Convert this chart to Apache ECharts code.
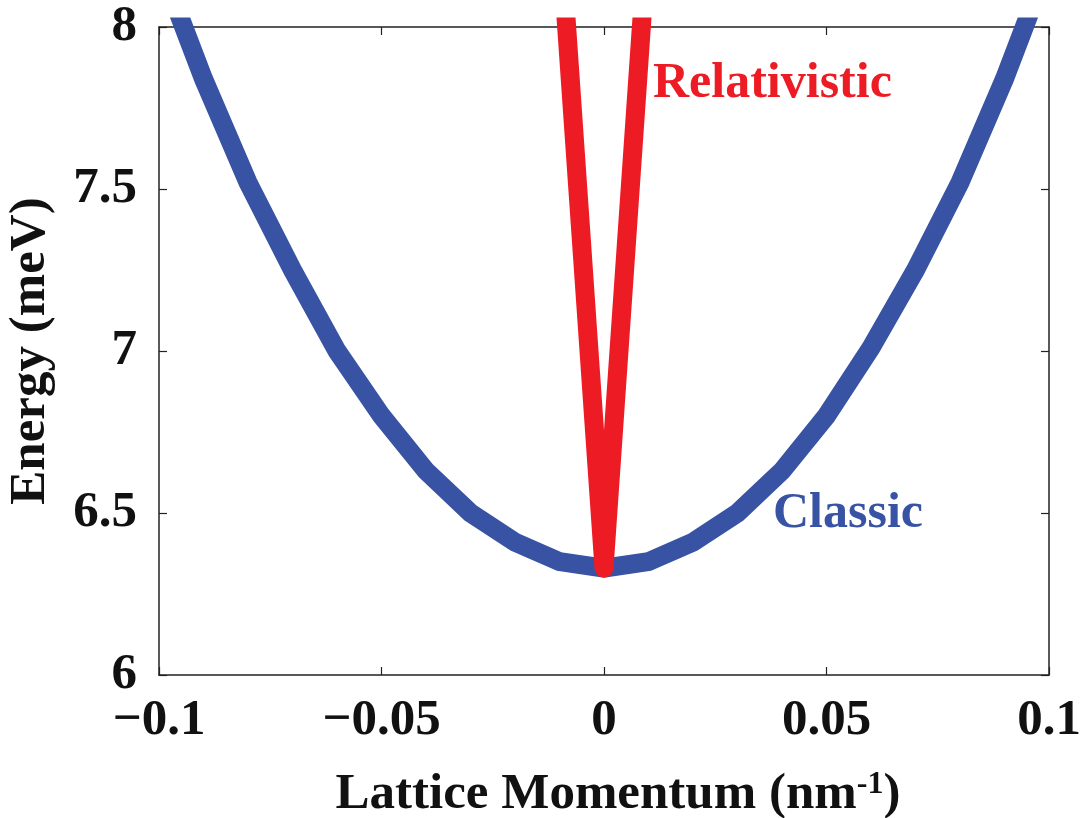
<!DOCTYPE html>
<html>
<head>
<meta charset="utf-8">
<title>Energy dispersion</title>
<script src="https://cdn.jsdelivr.net/npm/echarts@6/dist/echarts.min.js"></script>
<style>
  html, body { margin: 0; padding: 0; background: #ffffff; }
  #chart { width: 1089px; height: 818px; }
</style>
</head>
<body>
<div id="chart"></div>
<script>
// Lattice momentum samples (nm^-1)
const momentum = [-0.1, -0.09, -0.08, -0.07, -0.06, -0.05, -0.04, -0.03, -0.02, -0.01, 0,
                  0.01, 0.02, 0.03, 0.04, 0.05, 0.06, 0.07, 0.08, 0.09, 0.1];
// Classic (parabolic) branch, meV
const classicEnergy = [8.20, 7.84, 7.52, 7.25, 7.00, 6.80, 6.63, 6.50, 6.41, 6.35, 6.33,
                       6.35, 6.41, 6.50, 6.63, 6.80, 7.01, 7.25, 7.52, 7.84, 8.20];
// Relativistic (linear) branch, meV
const relMomentum = [-0.01, 0, 0.01];
const relEnergy = [8.32, 6.33, 8.32];

const xTicks = [-0.1, -0.05, 0, 0.05, 0.1];
const yTicks = [6, 6.5, 7, 7.5, 8];

const BLUE = '#3953a4';
const RED = '#ed1c24';
const FONT = '"Liberation Serif", "Times New Roman", serif';

const classicData = momentum.map((k, i) => [k, classicEnergy[i]]);
const relData = relMomentum.map((k, i) => [k, relEnergy[i]]);

function fmtX(v) {
  const t = xTicks.find(x => Math.abs(x - v) < 1e-9);
  if (t === undefined) return '';
  return t < 0 ? '\u2212' + String(Math.abs(t)) : String(t);
}
function fmtY(v) {
  const t = yTicks.find(y => Math.abs(y - v) < 1e-9);
  return t === undefined ? '' : String(t);
}

const chart = echarts.init(document.getElementById('chart'), null, { renderer: 'canvas' });

const axisLine = { show: true, onZero: false, lineStyle: { color: '#222', width: 1.5 } };
const axisTick = { show: true, inside: true, length: 8, lineStyle: { color: '#222', width: 1.2 } };

chart.setOption({
  animation: false,
  backgroundColor: '#ffffff',
  grid: { left: 159, top: 27, width: 890, height: 648, containLabel: false, outerBoundsMode: 'none' },
  xAxis: [
    {
      type: 'value', min: -0.1, max: 0.1, interval: 0.05, position: 'bottom',
      axisLine, axisTick, splitLine: { show: false },
      axisLabel: {
        color: '#111', fontFamily: FONT, fontWeight: 'bold', fontSize: 51, margin: 20,
        formatter: fmtX
      },
      name: 'Lattice Momentum (nm{sup|-1})',
      nameLocation: 'middle', nameGap: 94,
      nameTextStyle: {
        color: '#111', fontFamily: FONT, fontWeight: 'bold', fontSize: 51,
        padding: [0, 0, 0, 28],
        rich: {
          sup: { fontFamily: FONT, fontWeight: 'bold', fontSize: 32, color: '#111',
                 verticalAlign: 'top', lineHeight: 51, padding: [0, 0, 24, 0] }
        }
      }
    },
    {
      type: 'value', min: -0.1, max: 0.1, interval: 0.05, position: 'top',
      axisLine, axisTick, axisLabel: { show: false }, splitLine: { show: false }
    }
  ],
  yAxis: [
    {
      type: 'value', min: 6, max: 8, interval: 0.5, position: 'left',
      axisLine, axisTick, splitLine: { show: false },
      axisLabel: {
        color: '#111', fontFamily: FONT, fontWeight: 'bold', fontSize: 51, margin: 22,
        formatter: fmtY
      },
      name: 'Energy (meV)',
      nameLocation: 'middle', nameGap: 103, nameRotate: 90,
      nameTextStyle: { color: '#111', fontFamily: FONT, fontWeight: 'bold', fontSize: 51 }
    },
    {
      type: 'value', min: 6, max: 8, interval: 0.5, position: 'right',
      axisLine, axisTick, axisLabel: { show: false }, splitLine: { show: false }
    }
  ],
  series: [
    {
      name: 'Classic', type: 'line', data: classicData, clip: true,
      showSymbol: false, symbol: 'none', smooth: false,
      lineStyle: { color: BLUE, width: 19, cap: 'butt', join: 'miter' },
      z: 2
    },
    {
      name: 'Relativistic', type: 'line', data: relData, clip: true,
      showSymbol: false, symbol: 'none', smooth: false,
      lineStyle: { color: RED, width: 19, cap: 'round', join: 'round' },
      z: 3
    }
  ],
  graphic: [
    {
      type: 'text', left: 653, top: 59, silent: true,
      style: { text: 'Relativistic', fill: RED, font: 'bold 50px ' + FONT }
    },
    {
      type: 'text', left: 773, top: 489, silent: true,
      style: { text: 'Classic', fill: BLUE, font: 'bold 50px ' + FONT }
    }
  ]
});
</script>
</body>
</html>
